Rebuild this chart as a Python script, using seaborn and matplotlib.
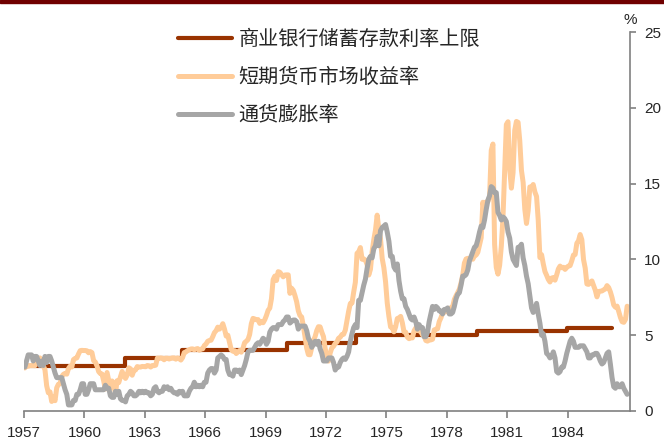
#plots deposit ceiling vs money market rate vs inflation, 1957-1986
import numpy as np
import pandas as pd
import seaborn as sns
from matplotlib import pyplot as plt
from matplotlib.patches import Rectangle

# deposit rate ceiling (step changes)
ceiling_year = [1957.0, 1962.0, 1964.83, 1970.05, 1973.5, 1979.5, 1983.95, 1986.2]
ceiling_rate = [3.0, 3.5, 4.0, 4.5, 5.0, 5.25, 5.5, 5.5]

# short term money market rate, monthly 1957-1986
mm_rate = [
    2.84, 3.00, 2.96, 3.00, 3.00, 3.00, 2.99, 3.24, 3.47, 3.50, 3.28, 2.98,
    2.72, 1.67, 1.20, 1.26, 0.63, 0.93, 0.68, 1.53, 1.76, 1.80, 2.27, 2.42,
    2.48, 2.43, 2.80, 2.96, 2.90, 3.39, 3.47, 3.50, 3.76, 3.98, 4.00, 3.99,
    3.99, 3.97, 3.84, 3.92, 3.85, 3.32, 3.23, 2.98, 2.60, 2.47, 2.44, 1.98,
    1.45, 2.54, 2.02, 1.49, 1.98, 1.73, 1.17, 2.00, 1.88, 2.26, 2.61, 2.33,
    2.15, 2.37, 2.85, 2.78, 2.36, 2.68, 2.71, 2.93, 2.90, 2.90, 2.94, 2.93,
    2.92, 3.00, 2.98, 2.90, 3.00, 2.99, 3.02, 3.49, 3.48, 3.50, 3.48, 3.38,
    3.48, 3.48, 3.43, 3.47, 3.50, 3.50, 3.42, 3.50, 3.45, 3.36, 3.52, 3.85,
    3.90, 3.98, 4.04, 4.09, 4.10, 4.04, 4.09, 4.12, 4.01, 4.08, 4.10, 4.32,
    4.42, 4.60, 4.65, 4.67, 4.90, 5.17, 5.30, 5.53, 5.40, 5.53, 5.76, 5.40,
    4.94, 5.00, 4.53, 4.05, 3.94, 3.98, 3.79, 3.90, 3.99, 3.88, 4.13, 4.51,
    4.60, 4.71, 5.05, 5.76, 6.11, 6.07, 6.02, 6.03, 5.78, 5.91, 5.82, 6.02,
    6.30, 6.64, 6.79, 7.41, 8.67, 8.90, 8.61, 9.19, 9.15, 9.00, 8.85, 8.97,
    8.98, 8.98, 7.76, 8.10, 7.95, 7.61, 7.21, 6.61, 6.29, 6.20, 5.60, 4.90,
    4.14, 3.72, 3.71, 4.16, 4.63, 4.91, 5.31, 5.56, 5.55, 5.20, 4.91, 4.14,
    3.50, 3.29, 3.83, 4.17, 4.27, 4.46, 4.55, 4.80, 4.87, 5.04, 5.06, 5.33,
    5.94, 6.58, 7.09, 7.12, 7.84, 8.49, 10.40, 10.50, 10.78, 10.01, 10.03, 9.95,
    9.65, 8.97, 9.35, 10.51, 11.31, 11.93, 12.92, 12.01, 11.34, 10.06, 9.45, 8.53,
    7.13, 6.24, 5.54, 5.49, 5.22, 5.55, 6.10, 6.14, 6.24, 5.82, 5.22, 5.20,
    4.87, 4.77, 4.84, 4.82, 5.29, 5.48, 5.31, 5.29, 5.25, 5.02, 4.95, 4.65,
    4.61, 4.68, 4.69, 4.73, 5.35, 5.39, 5.42, 5.90, 6.14, 6.47, 6.51, 6.56,
    6.70, 6.78, 6.79, 6.89, 7.36, 7.60, 7.81, 8.04, 8.45, 8.96, 9.76, 10.03,
    10.07, 10.06, 10.09, 10.01, 10.24, 10.29, 10.47, 10.94, 11.43, 13.77, 13.18, 13.78,
    13.82, 14.13, 17.19, 17.61, 10.98, 9.47, 9.03, 9.61, 10.87, 12.81, 15.85, 18.90,
    19.08, 15.93, 14.70, 15.72, 18.52, 19.10, 19.04, 17.82, 15.87, 15.08, 13.31, 12.37,
    13.22, 14.78, 14.68, 14.94, 14.45, 14.15, 12.59, 10.12, 10.31, 9.71, 9.20, 8.95,
    8.68, 8.51, 8.77, 8.80, 8.63, 8.98, 9.37, 9.56, 9.45, 9.48, 9.34, 9.47,
    9.56, 9.59, 9.91, 10.29, 10.32, 11.06, 11.23, 11.64, 11.30, 9.99, 9.43, 8.38,
    8.35, 8.50, 8.58, 8.27, 7.97, 7.53, 7.88, 7.90, 7.92, 7.99, 8.05, 8.27,
    8.14, 7.86, 7.48, 6.99, 6.85, 6.92, 6.56, 6.17, 5.89, 5.85, 6.04, 6.91,
]

# inflation, monthly yoy 1957-1986
cpi_yoy = [
    2.9, 3.3, 3.7, 3.7, 3.7, 3.3, 3.6, 3.6, 3.3, 3.0, 3.3, 3.0,
    3.6, 3.2, 3.6, 3.6, 3.3, 2.9, 2.5, 2.2, 2.2, 2.2, 2.2, 1.8,
    1.4, 1.1, 0.4, 0.4, 0.4, 0.7, 0.7, 1.1, 1.1, 1.4, 1.8, 1.8,
    1.1, 1.1, 1.4, 1.8, 1.8, 1.8, 1.4, 1.4, 1.4, 1.4, 1.4, 1.4,
    1.7, 1.5, 1.5, 1.0, 0.9, 0.9, 1.3, 1.1, 1.3, 0.8, 0.7, 0.7,
    0.6, 1.0, 1.1, 1.3, 1.2, 1.0, 1.0, 1.1, 1.3, 1.2, 1.3, 1.2,
    1.3, 1.2, 1.2, 1.0, 1.1, 1.5, 1.6, 1.3, 1.2, 1.3, 1.3, 1.6,
    1.5, 1.6, 1.4, 1.5, 1.3, 1.2, 1.2, 1.1, 1.3, 1.2, 1.3, 1.0,
    1.0, 1.0, 1.3, 1.5, 1.6, 1.9, 1.6, 1.7, 1.6, 1.7, 1.6, 1.9,
    1.9, 2.5, 2.7, 2.8, 2.8, 2.5, 2.7, 3.5, 3.6, 3.7, 3.6, 3.4,
    3.4, 2.7, 2.4, 2.4, 2.3, 2.7, 2.7, 2.6, 2.7, 2.4, 2.7, 3.0,
    3.4, 3.9, 4.0, 4.0, 4.0, 4.2, 4.4, 4.5, 4.4, 4.6, 4.8, 4.7,
    4.4, 4.6, 5.2, 5.4, 5.5, 5.5, 5.4, 5.7, 5.7, 5.7, 5.9, 6.0,
    6.2, 6.2, 5.8, 5.9, 6.0, 6.0, 5.9, 5.4, 5.6, 5.6, 5.6, 5.6,
    5.3, 4.8, 4.6, 4.2, 4.4, 4.6, 4.4, 4.6, 4.1, 3.8, 3.3, 3.3,
    3.3, 3.5, 3.5, 3.5, 3.2, 2.7, 2.9, 2.9, 3.2, 3.4, 3.5, 3.4,
    3.6, 3.9, 4.6, 5.1, 5.5, 5.7, 5.5, 7.3, 7.3, 7.8, 8.3, 8.7,
    9.4, 10.0, 10.2, 10.1, 10.7, 10.9, 11.5, 10.9, 11.9, 12.1, 12.2, 12.3,
    11.8, 11.2, 10.2, 10.2, 9.5, 9.3, 9.7, 8.6, 7.9, 7.4, 7.4, 6.9,
    6.7, 6.4, 6.1, 6.0, 6.2, 5.9, 5.4, 5.7, 5.5, 5.5, 4.9, 4.9,
    5.2, 5.9, 6.4, 6.9, 6.7, 6.9, 6.8, 6.6, 6.6, 6.4, 6.7, 6.7,
    6.8, 6.4, 6.4, 6.5, 6.9, 7.4, 7.7, 7.8, 8.3, 8.9, 8.9, 9.0,
    9.3, 9.9, 10.2, 10.5, 10.8, 10.9, 11.3, 11.8, 12.2, 12.1, 12.6, 13.3,
    13.9, 14.2, 14.8, 14.7, 14.4, 14.4, 13.1, 12.9, 12.6, 12.8, 12.7, 12.5,
    11.8, 11.4, 10.5, 10.0, 9.8, 9.6, 10.8, 10.8, 11.0, 10.1, 9.6, 8.9,
    8.4, 7.6, 6.8, 6.5, 6.7, 7.1, 6.4, 5.8, 5.0, 5.1, 4.6, 3.8,
    3.7, 3.5, 3.6, 3.9, 3.5, 2.6, 2.5, 2.6, 2.9, 2.9, 3.3, 3.8,
    4.2, 4.6, 4.8, 4.6, 4.2, 4.2, 4.2, 4.3, 4.3, 4.3, 4.1, 3.9,
    3.5, 3.5, 3.7, 3.7, 3.8, 3.8, 3.6, 3.3, 3.1, 3.2, 3.5, 3.8,
    3.9, 3.1, 2.2, 1.6, 1.5, 1.8, 1.6, 1.6, 1.8, 1.5, 1.3, 1.1,
]

labels = ["商业银行储蓄存款利率上限", "短期货币市场收益率", "通货膨胀率"]
xticks = list(range(1957, 1985, 3))

months = 1957 + (np.arange(len(mm_rate)) + 0.5) / 12.
df_mm = pd.DataFrame({"year": months, "value": mm_rate})
df_cpi = pd.DataFrame({"year": months, "value": cpi_yoy})
df_ceil = pd.DataFrame({"year": ceiling_year, "value": ceiling_rate})

sns.set_style("white")
plt.rcParams['font.family'] = ['Liberation Sans', 'DejaVu Sans']

fig = plt.figure(figsize=(6.64, 4.41), dpi=100)
ax = fig.add_axes([24/664, 1-411/441, (630-24)/664, (411-32)/441])

sns.lineplot(data=df_ceil, x="year", y="value", ax=ax, color="#993300", linewidth=3.0,
             drawstyle="steps-post", estimator=None, label=labels[0])
sns.lineplot(data=df_mm, x="year", y="value", ax=ax, color="#FFCC99", linewidth=3.6,
             estimator=None, label=labels[1])
sns.lineplot(data=df_cpi, x="year", y="value", ax=ax, color="#A6A6A6", linewidth=3.6,
             estimator=None, label=labels[2])

ax.set_xlim(1957, 1987.1)
ax.set_ylim(0, 25)
ax.set_xticks(xticks)
ax.set_xticklabels([str(t) for t in xticks])
ax.set_yticks([0, 5, 10, 15, 20, 25])
ax.yaxis.tick_right()
ax.set_xlabel("")
ax.set_ylabel("")
for s in ["left", "top"]:
    ax.spines[s].set_visible(False)
for s in ["right", "bottom"]:
    ax.spines[s].set_color("#808080")
    ax.spines[s].set_linewidth(1.2)
ax.tick_params(axis="x", direction="out", length=5, width=1.2, color="#808080",
               labelsize=11, pad=6, bottom=True)
ax.tick_params(axis="y", direction="out", length=4, width=1.2, color="#808080",
               labelsize=11, pad=6, right=True, left=False)

fig.text(630/664, 1-20/441, "%", ha="center", va="center", fontsize=11)

leg = ax.legend(loc="upper left", bbox_to_anchor=(178/664, 1-29/441),
                bbox_transform=fig.transFigure, frameon=False,
                prop={"family": ["Noto Sans CJK SC", "DejaVu Sans"], "size": 14.5},
                handlelength=2.7, handletextpad=0.3, labelspacing=0.85,
                borderpad=0, borderaxespad=0)

# dark red bar along the top edge
fig.add_artist(Rectangle((0, 1-3/441), 1, 3/441, transform=fig.transFigure,
                         color="#700000", zorder=10))

fig.savefig("out.png", dpi=100)
